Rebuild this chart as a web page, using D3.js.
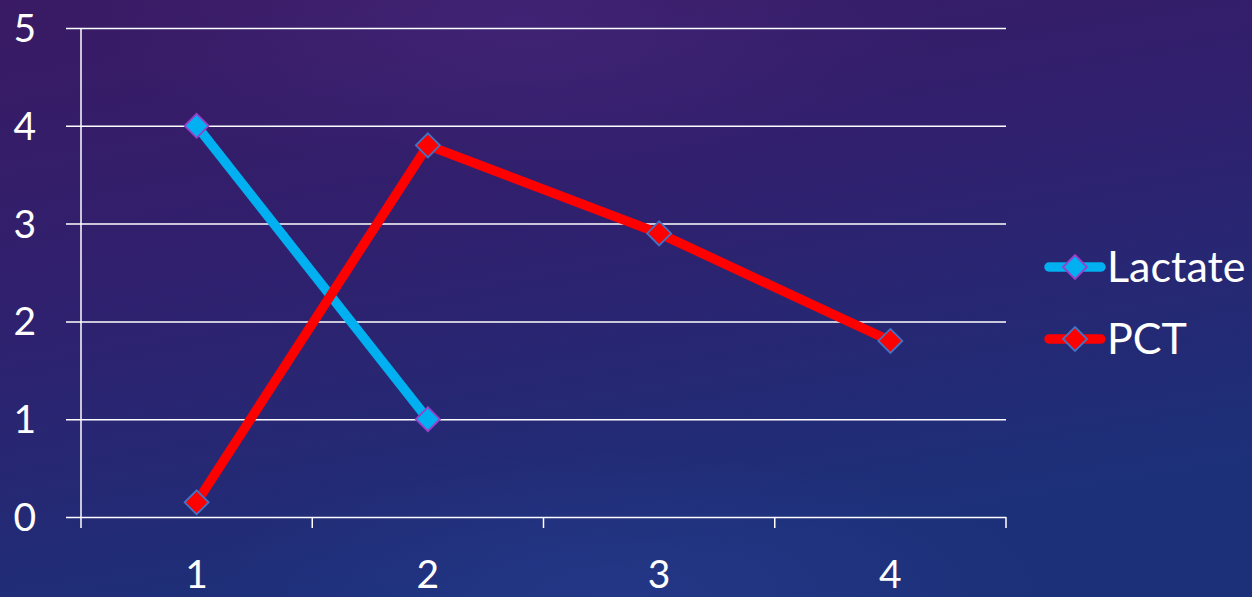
<!DOCTYPE html>
<html>
<head>
<meta charset="utf-8">
<script src="https://cdn.jsdelivr.net/npm/d3@7"></script>
<style>
  html, body { margin: 0; padding: 0; background: #2a1f68; }
  svg { display: block; }
</style>
</head>
<body>
<svg id="chart" width="1252" height="597"></svg>
<script>
// Chart data
const categories = ["1", "2", "3", "4"];
const lactateValues = [4, 1, null, null];
const pctValues = [0.15, 3.8, 2.9, 1.8];
const yTickValues = [0, 1, 2, 3, 4, 5];
const seriesNames = ["Lactate", "PCT"];

const W = 1252, H = 597;
const svg = d3.select("#chart");

// Night-sky background
const defs = svg.append("defs");
const bg = defs.append("linearGradient").attr("id", "bg")
  .attr("x1", "0").attr("y1", "0").attr("x2", "0.35").attr("y2", "1");
bg.append("stop").attr("offset", "0%").attr("stop-color", "#3a1a64");
bg.append("stop").attr("offset", "45%").attr("stop-color", "#30206e");
bg.append("stop").attr("offset", "100%").attr("stop-color", "#1c3079");
svg.append("rect").attr("width", W).attr("height", H).attr("fill", "url(#bg)");

const glow = defs.append("radialGradient").attr("id", "glow");
glow.append("stop").attr("offset", "0%").attr("stop-color", "#4a2a80").attr("stop-opacity", 0.5);
glow.append("stop").attr("offset", "100%").attr("stop-color", "#4a2a80").attr("stop-opacity", 0);
svg.append("ellipse").attr("cx", 520).attr("cy", 20).attr("rx", 420).attr("ry", 160).attr("fill", "url(#glow)");

const glow2 = defs.append("radialGradient").attr("id", "glow2");
glow2.append("stop").attr("offset", "0%").attr("stop-color", "#2c3f96").attr("stop-opacity", 0.45);
glow2.append("stop").attr("offset", "100%").attr("stop-color", "#2c3f96").attr("stop-opacity", 0);
svg.append("ellipse").attr("cx", 620).attr("cy", 590).attr("rx", 420).attr("ry", 140).attr("fill", "url(#glow2)");

// Scales
const x = d3.scaleBand().domain(categories).range([81, 1006]).paddingInner(0).paddingOuter(0);
const y = d3.scaleLinear().domain([0, 5]).range([517, 28]);
const xc = c => x(c) + x.bandwidth() / 2;

const font = "Lato, 'Open Sans', sans-serif";

// Gridlines
const yAxis = d3.axisLeft(y).tickValues(yTickValues).tickSize(-(1006 - 66)).tickFormat(d => d);
const gy = svg.append("g").attr("transform", "translate(66,0)").call(yAxis);
gy.select(".domain").remove();
gy.selectAll(".tick line").attr("stroke", "#ffffff").attr("stroke-width", 1.5);
gy.selectAll(".tick text").remove();

// y axis line
svg.append("line").attr("x1", 81).attr("x2", 81).attr("y1", y(5)).attr("y2", y(0))
  .attr("stroke", "#ffffff").attr("stroke-width", 1.5);

// y tick labels
svg.append("g").selectAll("text").data(yTickValues).join("text")
  .attr("x", 36).attr("y", d => y(d)).attr("dy", "0.36em")
  .attr("text-anchor", "end")
  .attr("fill", "#ffffff").attr("font-family", font).attr("font-size", 39)
  .text(d => d);

// x axis ticks at category boundaries
const bounds = categories.map(c => x(c)).concat([x(categories[categories.length - 1]) + x.bandwidth()]);
svg.append("g").selectAll("line").data(bounds).join("line")
  .attr("x1", d => d).attr("x2", d => d).attr("y1", y(0)).attr("y2", y(0) + 11)
  .attr("stroke", "#ffffff").attr("stroke-width", 1.5);

svg.append("g").selectAll("text").data(categories).join("text")
  .attr("x", d => xc(d)).attr("y", 588)
  .attr("text-anchor", "middle")
  .attr("fill", "#ffffff").attr("font-family", font).attr("font-size", 39)
  .text(d => d);

// Series
const series = [
  { name: seriesNames[0], values: lactateValues, color: "#00b0f0", edge: "#9b3fc8" },
  { name: seriesNames[1], values: pctValues, color: "#ff0000", edge: "#4472c4" }
];

const line = d3.line()
  .defined(d => d.v != null)
  .x(d => xc(d.c)).y(d => y(d.v));

const diamond = (cx, cy, r) => `M${cx},${cy - r}L${cx + r},${cy}L${cx},${cy + r}L${cx - r},${cy}Z`;

series.forEach(s => {
  const pts = categories.map((c, i) => ({ c, v: s.values[i] }));
  svg.append("path").datum(pts).attr("d", line)
    .attr("fill", "none").attr("stroke", s.color).attr("stroke-width", 9.5)
    .attr("stroke-linejoin", "round");
  svg.append("g").selectAll("path").data(pts.filter(d => d.v != null)).join("path")
    .attr("d", d => diamond(xc(d.c), y(d.v), 12))
    .attr("fill", s.color).attr("stroke", s.edge).attr("stroke-width", 1.8);
});

// Legend
const legend = svg.append("g");
const legendY = [267, 339];
series.forEach((s, i) => {
  const ly = legendY[i];
  legend.append("line").attr("x1", 1049).attr("x2", 1101).attr("y1", ly).attr("y2", ly)
    .attr("stroke", s.color).attr("stroke-width", 9.5).attr("stroke-linecap", "round");
  legend.append("path").attr("d", diamond(1075, ly, 12))
    .attr("fill", s.color).attr("stroke", s.edge).attr("stroke-width", 1.8);
  legend.append("text").attr("x", 1107).attr("y", ly).attr("dy", "0.36em")
    .attr("fill", "#ffffff").attr("font-family", font).attr("font-size", 43)
    .text(s.name);
});
</script>
</body>
</html>
